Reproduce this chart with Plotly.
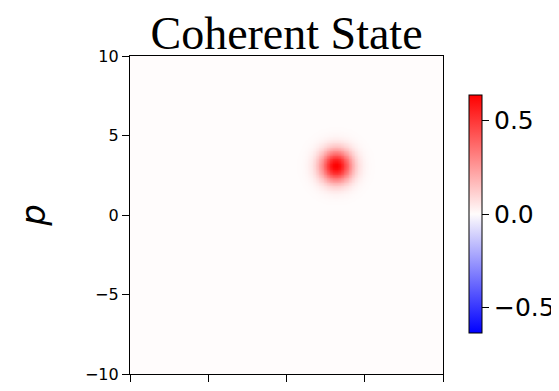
import numpy as np
import plotly.graph_objects as go

# Wigner function parameters
x_range = [-10, 10]
p_range = [-10, 10]
n_grid = 201
center_x = 3.15        # coherent-state displacement (x)
center_p = 3.1         # coherent-state displacement (p)
peak_value = 0.6366    # 2/pi, max of colorbar
color_limit = 0.6366
y_ticks = [-10, -5, 0, 5, 10]
x_ticks = [-10, -5, 0, 5, 10]
cbar_ticks = [-0.5, 0.0, 0.5]
title_text = "Coherent State"

xs = np.linspace(x_range[0], x_range[1], n_grid)
ps = np.linspace(p_range[0], p_range[1], n_grid)
X, P = np.meshgrid(xs, ps)
W = peak_value * np.exp(-((X - center_x) ** 2 + (P - center_p) ** 2))

bwr = [[0.0, "rgb(0,0,255)"], [0.5, "rgb(255,252,252)"], [1.0, "rgb(255,0,0)"]]

# page body has an 8px margin; work in figure coordinates
OFF = 8
W_FIG, H_FIG = 559 - OFF, 391 - OFF
L, R, T, B = 130 - OFF, 443 - OFF, 56 - OFF, 374 - OFF
pw, ph = R - L, B - T

fig = go.Figure(go.Heatmap(
    x=xs, y=ps, z=W, colorscale=bwr, zmin=-color_limit, zmax=color_limit,
    zsmooth="best",
    colorbar=dict(
        x=(469 - OFF - L) / pw, xanchor="left", y=(B - (214 - OFF)) / ph, yanchor="middle",
        thickness=13, thicknessmode="pixels", len=238, lenmode="pixels",
        outlinecolor="black", outlinewidth=1,
        tickvals=cbar_ticks, tickformat=".1f", ticks="outside", ticklen=7,
        tickcolor="black", tickwidth=1.2,
        tickfont=dict(family="DejaVu Sans", size=25, color="black"),
        xpad=0, ypad=0,
    ),
))

fig.update_layout(
    width=W_FIG, height=H_FIG,
    margin=dict(l=L, r=W_FIG - R, t=T, b=H_FIG - B, autoexpand=False),
    paper_bgcolor="white", plot_bgcolor="white",
    title=dict(text=title_text, x=(L + R) / 2 / W_FIG, xanchor="center",
               xref="container", y=1 - 41 / H_FIG, yanchor="bottom", yref="container",
               font=dict(family="Liberation Serif", size=46, color="black")),
    xaxis=dict(range=x_range, tickvals=x_ticks, showticklabels=False,
               ticks="outside", ticklen=7, tickwidth=1.2, tickcolor="black",
               showline=True, linecolor="black", linewidth=1.3, mirror=True,
               showgrid=False, zeroline=False),
    yaxis=dict(range=p_range, tickvals=y_ticks, ticks="outside", ticklen=7,
               tickwidth=1.2, tickcolor="black",
               tickfont=dict(family="DejaVu Sans", size=16, color="black"),
               showline=True, linecolor="black", linewidth=1.3, mirror=True,
               showgrid=False, zeroline=False,
               title=dict(text="<i>p</i>", standoff=28,
                          font=dict(family="DejaVu Sans", size=34, color="black"))),
)

fig.write_html("out.html")
